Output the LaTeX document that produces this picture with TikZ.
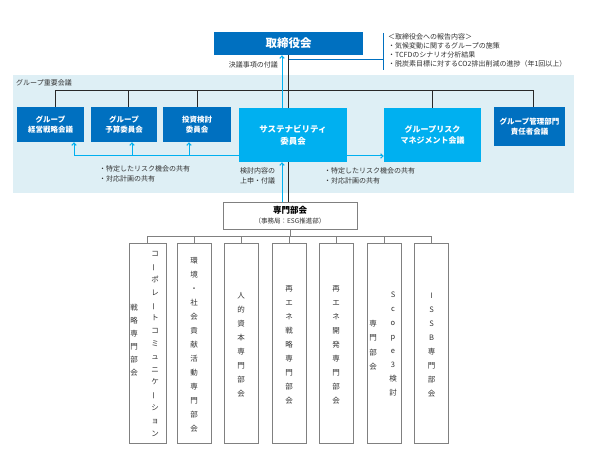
\documentclass[tikz,border=0pt]{standalone}
\usepackage{fontspec}
\setmainfont{Noto Sans CJK JP}
\usetikzlibrary{arrows.meta}
\definecolor{dblue}{RGB}{0,112,192}
\definecolor{cblue}{RGB}{0,176,240}
\definecolor{bgblue}{RGB}{222,239,245}
\definecolor{lgray}{RGB}{128,128,128}
\definecolor{dline}{RGB}{40,40,40}
\definecolor{tgray}{RGB}{50,50,50}
\pgfdeclarelayer{bg}
\pgfsetlayers{bg,main}
\newcommand\tatebar{\rotatebox[origin=c]{90}{ー}}
\tikzset{
  dbox/.style={fill=dblue, text=white, align=center, inner sep=0pt, font=\bfseries\fontsize{7.5}{10}\selectfont},
  cbox/.style={fill=cblue, text=white, align=center, inner sep=0pt, font=\bfseries\fontsize{8}{11}\selectfont},
  tbox/.style={draw=lgray, line width=0.8pt, fill=white, minimum height=200pt, minimum width=34pt, inner sep=0pt},
  note/.style={text=tgray, align=left, inner sep=0pt, font=\fontsize{7}{10.5}\selectfont},
  vt/.style={text=tgray, align=center, inner sep=0pt, font=\fontsize{7.5}{14}\selectfont},
  cyarrow/.style={draw=cblue, line width=1pt, -{Straight Barb[length=2.5pt,width=4.5pt]}},
  cyline/.style={draw=cblue, line width=1pt},
  blkline/.style={draw=dline, line width=1.2pt},
  treeline/.style={draw=lgray, line width=0.8pt},
}
\begin{document}
\begin{tikzpicture}[x=1pt,y=-1pt]
\useasboundingbox (0,0) rectangle (590,452);
% top
\node[dbox, minimum width=149pt, minimum height=23pt, font=\bfseries\fontsize{11.5}{13}\selectfont] (board) at (288.5,43.5) {取締役会};
\node[note, anchor=north west, font=\fontsize{7}{9}\selectfont] (info) at (388,33) {＜取締役会への報告内容＞\\・気候変動に関するグループの施策\\・TCFDのシナリオ分析結果\\・脱炭素目標に対するCO2排出削減の進捗（年1回以上）};
\node[note, anchor=east] (ketsugi) at (278,65) {決議事項の付議};
% group area
\node[note, anchor=west] (glbl) at (16,83) {グループ重要会議};
\node[dbox, minimum width=67pt, minimum height=35pt] (b1) at (50.5,124.5) {グループ\\経営戦略会議};
\node[dbox, minimum width=66pt, minimum height=35pt] (b2) at (124,124.5) {グループ\\予算委員会};
\node[dbox, minimum width=68pt, minimum height=35pt] (b3) at (197,124.5) {投資検討\\委員会};
\node[cbox, minimum width=108pt, minimum height=54pt, font=\bfseries\fontsize{8.5}{12}\selectfont] (sust) at (293,135) {サステナビリティ\\委員会};
\node[cbox, minimum width=97pt, minimum height=54pt] (risk) at (432.5,135) {グループリスク\\マネジメント会議};
\node[dbox, minimum width=71pt, minimum height=39pt] (mgmt) at (529.5,126.5) {グループ管理部門\\責任者会議};
\node[note, anchor=north west] (shareL) at (99,165) {・特定したリスク機会の共有\\・対応計画の共有};
\node[note, anchor=north west] (shareR) at (324,167) {・特定したリスク機会の共有\\・対応計画の共有};
\node[note, anchor=north west] (joshin) at (240,167) {検討内容の\\上申・付議};
% senmon
\node[draw=lgray, line width=0.8pt, fill=white, minimum width=134pt, minimum height=27pt, inner sep=0pt] (sen) at (290,215.5) {};
\node[text=black, inner sep=0pt, font=\bfseries\fontsize{8.5}{10}\selectfont] (sent) at (290,210) {専門部会};
\node[text=tgray, inner sep=0pt, font=\fontsize{6.5}{8}\selectfont] (sens) at (290,221.5) {（事務局：ESG推進部）};
% tree boxes
\node[tbox, minimum width=37pt] (t1) at (147.5,343) {};
\node[tbox] (t2) at (194,343) {};
\node[tbox] (t3) at (241,343) {};
\node[tbox] (t4) at (289,343) {};
\node[tbox] (t5) at (336,343) {};
\node[tbox] (t6) at (384,343) {};
\node[tbox] (t7) at (431.5,343) {};
% vertical texts
\node[vt, font=\fontsize{7.5}{12.8}\selectfont] (v1a) at (155,344) {コ\\\tatebar\\ポ\\レ\\\tatebar\\ト\\コ\\ミ\\ュ\\ニ\\ケ\\\tatebar\\シ\\ョ\\ン};
\node[vt, font=\fontsize{7.5}{13}\selectfont] (v1b) at (134,340) {戦\\略\\専\\門\\部\\会};
\node[vt] (v2) at (194,345) {環\\境\\・\\社\\会\\貢\\献\\活\\動\\専\\門\\部\\会};
\node[vt] (v3) at (241,345) {人\\的\\資\\本\\専\\門\\部\\会};
\node[vt] (v4) at (289,345) {再\\エ\\ネ\\戦\\略\\専\\門\\部\\会};
\node[vt] (v5) at (336,345) {再\\エ\\ネ\\開\\発\\専\\門\\部\\会};
\node[vt] (v6a) at (393,344) {S\\c\\o\\p\\e\\3\\検\\討};
\node[vt, font=\fontsize{7.5}{14.5}\selectfont] (v6b) at (373,345) {専\\門\\部\\会};
\node[vt] (v7) at (431.5,345) {I\\S\\S\\B\\専\\門\\部\\会};
% coordinates
\coordinate (bus) at (0,90);
\coordinate (cx) at (282,0);
\coordinate (cl) at (0,156);
\coordinate (brk) at (383,60);
\coordinate (brkT) at (383,33);
\coordinate (brkB) at (383,70);
\coordinate (tree) at (0,236);
\begin{pgfonlayer}{bg}
\fill[white] (0,0) rectangle (590,452);
\fill[bgblue] (13,75) rectangle (574,193);
% group bus
\draw[blkline, line width=0.9pt] ([xshift=4.5pt]b1.north) -- ([xshift=4.5pt]b1.north |- bus) -| ([xshift=3.5pt]mgmt.north);
\draw[blkline, line width=0.9pt] ([xshift=4pt]b2.north) -- ([xshift=4pt]b2.north |- bus);
\draw[blkline, line width=0.9pt] (b3.north) -- (b3.north |- bus);
\draw[blkline, line width=0.9pt] (risk.north) -- (risk.north |- bus);
% central black line
\draw[blkline] (board.south) -- (board.south |- sen.north);
% cyan arrows
\draw[cyarrow] (sust.north -| cx) -- (board.south -| cx);
\draw[cyarrow] (sen.north -| cx) -- (sust.south -| cx);
\draw[cyline] (sust.west |- cl) -- ([xshift=23.5pt]b1.south |- cl);
\draw[cyarrow] ([xshift=23.5pt]b1.south |- cl) -- ([xshift=23.5pt]b1.south);
\draw[cyarrow] ([xshift=8pt]b2.south |- cl) -- ([xshift=8pt]b2.south);
\draw[cyarrow] ([xshift=-8pt]b3.south |- cl) -- ([xshift=-8pt]b3.south);
\draw[cyarrow] (sust.east |- cl) -- (risk.west |- cl);
% blue bracket
\draw[draw=dblue, line width=1pt] (board.south |- brk) -- (brk);
\draw[draw=dblue, line width=1pt] (brkT) -- (brkB);
% tree
\draw[treeline] (sen.south) -- (sen.south |- tree);
\draw[treeline] (t1.north) -- (t1.north |- tree) -- (t7.north |- tree) -- (t7.north);
\foreach \t in {t2,t3,t4,t5,t6} {\draw[treeline] (\t.north) -- (\t.north |- tree);}
\end{pgfonlayer}
\end{tikzpicture}
\end{document}
